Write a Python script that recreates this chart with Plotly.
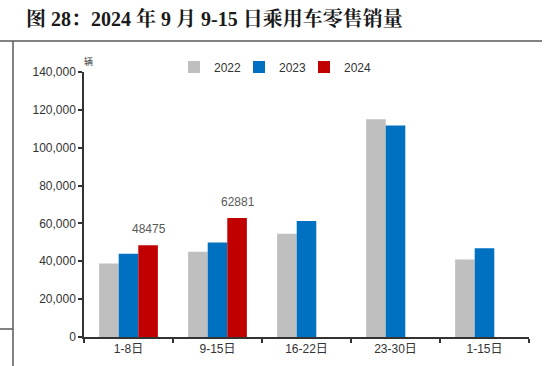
import plotly.graph_objects as go

categories = ["1-8日", "9-15日", "16-22日", "23-30日", "1-15日"]
series_names = ["2022", "2023", "2024"]
v2022 = [38800, 45100, 54600, 115000, 41000]
v2023 = [44000, 49900, 61300, 111700, 46900]
v2024 = [48475, 62881, None, None, None]
colors = ["#BFBFBF", "#0070C0", "#C00000"]
ytick_vals = [0, 20000, 40000, 60000, 80000, 100000, 120000, 140000]
ytick_text = ["0", "20,000", "40,000", "60,000", "80,000", "100,000", "120,000", "140,000"]

L, R, T, B = 84, 21, 72, 29
W, H = 550, 366
pw, ph = W - L - R, H - T - B

def px(x):
    return (x - L) / pw

def py(y):
    return (H - B - y) / ph

legend_ids = ["legend", "legend2", "legend3"]
legend_x = [174, 239, 304]

fig = go.Figure()
for name, vals, col, lid in zip(series_names, [v2022, v2023, v2024], colors, legend_ids):
    fig.add_trace(go.Bar(
        x=categories, y=vals, name=name, legend=lid,
        marker=dict(color=col, line=dict(width=0)),
        hoverinfo="skip",
    ))

line_style = dict(color="#595959", width=1.5)
shapes = [
    dict(type="line", xref="paper", yref="paper", x0=px(0), x1=px(542), y0=py(41), y1=py(41), line=line_style),
    dict(type="line", xref="paper", yref="paper", x0=px(13), x1=px(13), y0=py(41), y1=py(366), line=line_style),
    dict(type="line", xref="paper", yref="paper", x0=px(0), x1=px(13), y0=py(329), y1=py(329), line=line_style),
]

legend_style = dict(orientation="h", xanchor="left", yanchor="middle",
                    font=dict(size=12, color="#333333"), bgcolor="rgba(0,0,0,0)")
layout_legends = {}
for lid, lx in zip(legend_ids, legend_x):
    layout_legends[lid] = dict(x=px(lx), y=py(67), **legend_style)

annotations = [
    dict(text="<b>图 28：2024 年 9 月 9-15 日乘用车零售销量</b>", xref="paper", yref="paper",
         x=px(24), y=py(18), xanchor="left", yanchor="middle", showarrow=False,
         font=dict(size=20, color="#1a1a1a", family="Liberation Serif, Noto Serif CJK SC, Noto Sans CJK SC")),
    dict(text="辆", xref="paper", yref="paper", x=px(88), y=py(61), xanchor="center", yanchor="middle",
         showarrow=False, font=dict(size=9, color="#333333", family="Noto Sans CJK SC")),
]
for cat, v in zip(categories, v2024):
    if v is not None:
        annotations.append(dict(
            x=cat, y=v, xref="x", yref="y", text=str(v), showarrow=False,
            xanchor="center", yanchor="bottom", xshift=20, yshift=7,
            font=dict(size=12, color="#595959", family="Liberation Sans, Arial"),
        ))

fig.update_layout(
    width=W, height=H,
    margin=dict(l=L, r=R, t=T, b=B, autoexpand=False),
    paper_bgcolor="white", plot_bgcolor="white",
    barmode="group", bargap=0.34, bargroupgap=0,
    font=dict(family="Liberation Sans, Arial, Noto Sans CJK SC", size=12, color="#333333"),
    showlegend=True,
    hovermode=False,
    shapes=shapes,
    annotations=annotations,
    **layout_legends,
)
fig.update_xaxes(
    type="category", showline=True, linecolor="#333333", linewidth=1.5, automargin=False,
    ticks="outside", tickson="boundaries", ticklen=4, tickcolor="#333333", tickwidth=1.5,
    tickfont=dict(size=12, color="#333333", family="Liberation Sans, Noto Sans CJK SC"),
    showgrid=False,
)
fig.update_yaxes(
    range=[0, 140000], tickvals=ytick_vals, ticktext=ytick_text, automargin=False,
    showline=True, linecolor="#333333", linewidth=1.5,
    ticks="outside", ticklen=4, tickcolor="#333333", tickwidth=1.5,
    showgrid=False, zeroline=False,
    tickfont=dict(size=12, color="#333333"),
)

fig.write_html("out.html", config={"displayModeBar": False},
               post_script="document.body.style.margin='0';")
